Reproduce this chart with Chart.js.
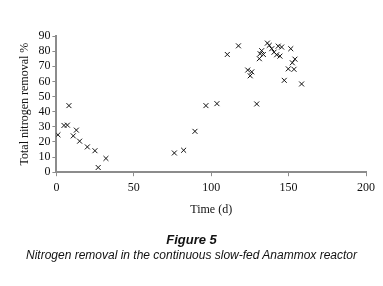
<!DOCTYPE html>
<html>
<head>
<meta charset="utf-8">
<script src="https://cdn.jsdelivr.net/npm/chart.js@4/dist/chart.umd.min.js"></script>
<style>
  html, body { margin: 0; padding: 0; background: #fff; }
  #wrap { position: relative; width: 383px; height: 286px; }
  #chart { position: absolute; left: 0; top: 0; }
  .cap { position: absolute; left: 0; width: 383px; text-align: center; font-family: "Liberation Sans", Arial, sans-serif; font-style: italic; color: #111; }
  #fig { top: 232px; font-size: 13px; font-weight: bold; }
  #sub { top: 248px; font-size: 12px; }
</style>
</head>
<body>
<div id="wrap">
  <canvas id="chart" width="383" height="286"></canvas>
  <div class="cap" id="fig">Figure 5</div>
  <div class="cap" id="sub">Nitrogen removal in the continuous slow-fed Anammox reactor</div>
</div>
<script>
// time (d) and total nitrogen removal (%)
const days = [1, 4.9, 7.1, 8.1, 10.9, 12.9, 15, 20, 24.9, 27, 32, 76.2, 82.2, 89.5, 96.6, 103.7,
  110.4, 117.6, 123.6, 126.2, 125.2, 129.4, 131.1, 131.6, 132.6, 133.7, 136.3, 137.5, 139.1,
  140.6, 142.3, 144.4, 143.3, 145.5, 147.2, 149.8, 153.5, 152.4, 154.1, 151.4, 158.4];
const removal = [24.7, 30.9, 31.1, 44, 24, 27.8, 20.5, 16.7, 14.2, 3.1, 9.1, 12.7, 14.5, 27, 44, 45.3,
  77.8, 83.5, 67.5, 66.3, 63.7, 45.1, 75, 78.3, 80.3, 77.8, 85.3, 83.8, 81.6,
  79.3, 77.6, 76.7, 83.3, 82.7, 60.7, 68.3, 68, 72.3, 74.7, 81.6, 58.3];
const xTicks = [0, 50, 100, 150, 200];
const yTicks = [0, 10, 20, 30, 40, 50, 60, 70, 80, 90];

const points = days.map((d, i) => ({ x: d, y: removal[i] }));
const tickFont = { family: "'Liberation Serif', 'Times New Roman', serif", size: 12 };
const axisGrey = "#8c8c8c";

new Chart(document.getElementById("chart"), {
  type: "scatter",
  data: {
    datasets: [{
      data: points,
      pointStyle: "crossRot",
      radius: 3.5,
      borderColor: "#111",
      borderWidth: 1,
      backgroundColor: "#111",
    }],
  },
  options: {
    responsive: false,
    animation: false,
    layout: { padding: { top: 36, right: 17, bottom: 65, left: 14 } },
    plugins: { legend: { display: false }, tooltip: { enabled: false } },
    scales: {
      x: {
        type: "linear",
        min: xTicks[0],
        max: xTicks[xTicks.length - 1],
        afterBuildTicks: (ax) => { ax.ticks = xTicks.map((v) => ({ value: v })); },
        grid: { drawOnChartArea: false, drawTicks: true, tickLength: 4, color: axisGrey },
        border: { color: axisGrey, width: 2 },
        ticks: { color: "#111", font: tickFont, padding: 4, maxRotation: 0, autoSkip: false },
        title: { display: true, text: "Time (d)", color: "#111", font: tickFont, padding: { top: 4 } },
      },
      y: {
        type: "linear",
        min: yTicks[0],
        max: yTicks[yTicks.length - 1],
        afterBuildTicks: (ax) => { ax.ticks = yTicks.map((v) => ({ value: v })); },
        grid: { drawOnChartArea: false, drawTicks: true, tickLength: 4, color: axisGrey },
        border: { color: axisGrey, width: 2 },
        ticks: { color: "#111", font: tickFont, padding: 2, autoSkip: false },
        title: { display: true, text: "Total nitrogen removal %", color: "#111", font: tickFont, padding: { bottom: 4 } },
      },
    },
  },
});
</script>
</body>
</html>
